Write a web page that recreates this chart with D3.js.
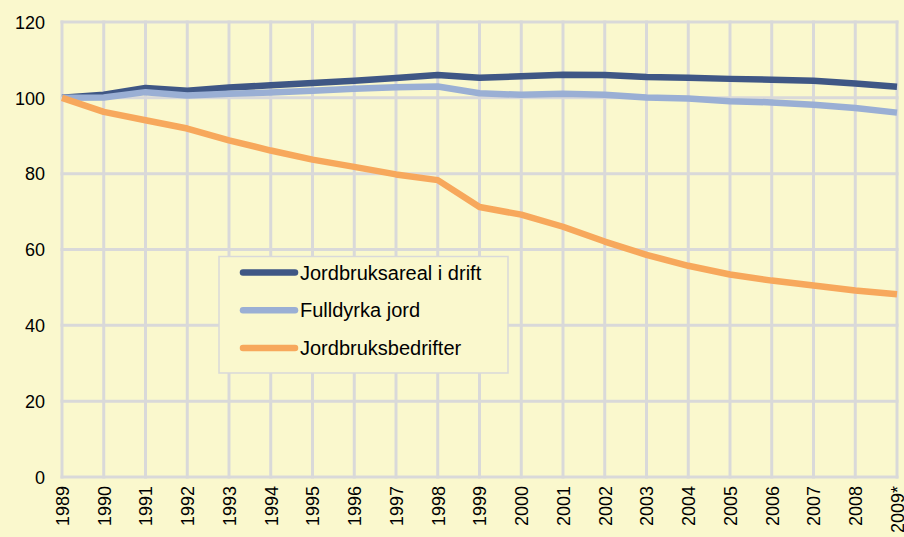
<!DOCTYPE html>
<html>
<head>
<meta charset="utf-8">
<title>Jordbruk</title>
<script src="https://d3js.org/d3.v7.min.js"></script>
<style>
	body { margin: 0; background: #faf8cd; }
	svg { display: block; }
	svg text { font-family: "Liberation Sans", Arial, sans-serif; fill: #000; }
	.grid line { stroke: #d9d9d9; stroke-width: 3; }
	.tick text { font-size: 18px; }
	.legend text { font-size: 20px; }
</style>
</head>
<body>
<svg width="904" height="537"></svg>
<script>
	// Data
	var years = ["1989","1990","1991","1992","1993","1994","1995","1996","1997","1998","1999",
		"2000","2001","2002","2003","2004","2005","2006","2007","2008","2009*"];
	var areal = [100, 100.8, 102.6, 101.9, 102.7, 103.3, 103.9, 104.5, 105.2, 106, 105.3,
		105.7, 106.1, 106, 105.5, 105.3, 105, 104.8, 104.5, 103.8, 102.9];
	var fulldyrka = [100, 100.1, 101.5, 100.6, 101.1, 101.4, 101.9, 102.4, 102.8, 103, 101.2,
		100.8, 101.1, 100.8, 100.1, 99.8, 99.1, 98.8, 98.2, 97.3, 96.1];
	var bedrifter = [100, 96.3, 94.1, 91.9, 88.8, 86.1, 83.7, 81.8, 79.8, 78.3, 71.2,
		69.2, 66, 62.1, 58.6, 55.7, 53.4, 51.8, 50.5, 49.2, 48.2];
	var seriesNames = ["Jordbruksareal i drift", "Fulldyrka jord", "Jordbruksbedrifter"];
	var seriesColors = ["#3f5785", "#9aafd4", "#f7a85c"];
	var yTicks = [0, 20, 40, 60, 80, 100, 120];

	var svg = d3.select("svg");
	var x = d3.scalePoint().domain(years).range([62, 897]);
	var y = d3.scaleLinear().domain([0, 120]).range([477, 22]);

	// grid
	var grid = svg.append("g").attr("class", "grid");
	grid.selectAll(".v").data(years).enter().append("line")
		.attr("x1", function(d){ return x(d); }).attr("x2", function(d){ return x(d); })
		.attr("y1", y(120) - 1.5).attr("y2", y(0) + 1.5);
	grid.selectAll(".h").data(yTicks).enter().append("line")
		.attr("x1", x(years[0]) - 1.5).attr("x2", x(years[years.length - 1]) + 1.5)
		.attr("y1", function(d){ return y(d); }).attr("y2", function(d){ return y(d); });

	// axes
	var yAxis = svg.append("g")
		.attr("transform", "translate(" + (x(years[0]) - 17) + ",0)")
		.call(d3.axisLeft(y).tickValues(yTicks).tickSize(0).tickPadding(0));
	yAxis.select(".domain").remove();
	yAxis.selectAll("text").attr("dy", "0.35em");

	var xAxis = svg.append("g")
		.attr("transform", "translate(0," + (y(0) + 9) + ")")
		.call(d3.axisBottom(x).tickSize(0).tickPadding(0));
	xAxis.select(".domain").remove();
	xAxis.selectAll("text")
		.attr("transform", "rotate(-90)")
		.attr("x", 0).attr("y", 0)
		.attr("dy", "0.36em")
		.style("text-anchor", "end");

	// lines
	var line = d3.line()
		.x(function(d, i){ return x(years[i]); })
		.y(function(d){ return y(d); });
	var allSeries = [areal, fulldyrka, bedrifter];
	svg.append("g").selectAll("path").data(allSeries).enter().append("path")
		.attr("d", line)
		.attr("fill", "none")
		.attr("stroke", function(d, i){ return seriesColors[i]; })
		.attr("stroke-width", 6.5)
		.attr("stroke-linejoin", "round");

	// legend
	var lg = svg.append("g").attr("class", "legend");
	lg.append("rect")
		.attr("x", 219).attr("y", 256.5).attr("width", 289).attr("height", 116.5)
		.attr("fill", "#faf8cd").attr("stroke", "#d9d9d9").attr("stroke-width", 1.5);
	var rows = lg.selectAll(".row").data(seriesNames).enter().append("g")
		.attr("transform", function(d, i){ return "translate(0," + (272.5 + i * 37.7) + ")"; });
	rows.append("line")
		.attr("x1", 243).attr("x2", 295)
		.attr("stroke", function(d, i){ return seriesColors[i]; })
		.attr("stroke-width", 6.5).attr("stroke-linecap", "round");
	rows.append("text")
		.attr("x", 300).attr("dy", "0.35em")
		.text(function(d){ return d; });
</script>
</body>
</html>
